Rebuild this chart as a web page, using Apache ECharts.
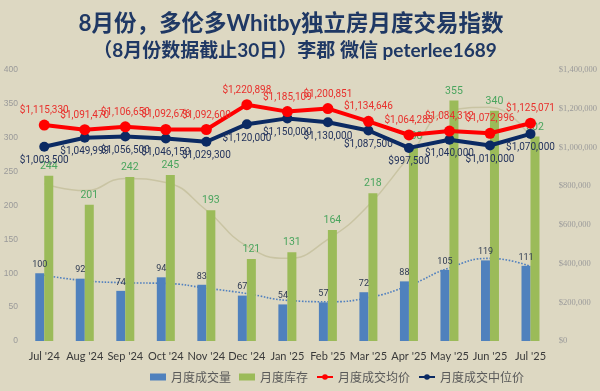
<!DOCTYPE html>
<html><head><meta charset="utf-8">
<script src="https://cdn.jsdelivr.net/npm/echarts@6/dist/echarts.min.js"></script>
<style>html,body{margin:0;padding:0;background:#ddd8c2;}#c{width:600px;height:391px;}</style>
</head><body><div id="c"></div>
<script>
const categories = ["Jul '24","Aug '24","Sep '24","Oct '24","Nov '24","Dec '24","Jan '25","Feb '25","Mar '25","Apr '25","May '25","Jun '25","Jul '25"];
const volume = [100, 92, 74, 94, 83, 67, 54, 57, 72, 88, 105, 119, 111];
const inventory = [244, 201, 242, 245, 193, 121, 131, 164, 218, 288, 355, 340, 302];
const avgPrice = [1115330, 1091470, 1106650, 1092676, 1092600, 1220898, 1185109, 1200851, 1134646, 1064283, 1084312, 1072996, 1125071];
const medianPrice = [1003500, 1049999, 1056500, 1046150, 1029300, 1120000, 1150000, 1130000, 1087500, 997500, 1040000, 1010000, 1070000];
const volumeTrend = [97, 89, 86, 85, 78, 70, 60, 58, 64, 82, 108, 122, 110];
const inventoryTrend = [232, 222, 240, 234, 193, 140, 122, 150, 200, 272, 340, 345, 300];
const leftTicks = {min: 0, max: 400, interval: 50};
const rightTicks = {min: 0, max: 1400000, interval: 200000};
const names = ['月度成交量', '月度库存', '月度成交均价', '月度成交中位价'];

const money = v => '$' + Math.round(v).toLocaleString('en-US');
const latin = "Lato, 'Noto Sans CJK SC', sans-serif";
const lbl = "Roboto, sans-serif";

const chart = echarts.init(document.getElementById('c'));
chart.setOption({
  backgroundColor: '#ddd8c2',
  animation: false,
  title: [{
    text: '8月份，多伦多Whitby独立房月度交易指数',
    left: 286, top: 7, textAlign: 'center',
    textStyle: {fontSize: 22.5, fontWeight: 'bold', color: '#1f3864', fontFamily: latin}
  }, {
    text: '（8月份数据截止30日）李郡 微信 peterlee1689',
    left: 290, top: 36, textAlign: 'center',
    textStyle: {fontSize: 19, fontWeight: 'bold', color: '#1f3864', fontFamily: latin}
  }],
  legend: {
    data: [
      {name: names[0], icon: 'rect'},
      {name: names[1], icon: 'rect'},
      {name: names[2]},
      {name: names[3]}
    ],
    top: 366, left: 145,
    itemWidth: 16, itemHeight: 7, itemGap: 8,
    textStyle: {fontSize: 12, color: '#595959', fontFamily: "'Noto Sans CJK SC', sans-serif"}
  },
  grid: {left: 24, right: 47, top: 70, bottom: 50},
  xAxis: {
    type: 'category', data: categories,
    axisLine: {show: false}, axisTick: {show: false},
    axisLabel: {interval: 0, fontSize: 11, color: '#3a3a3a', margin: 10, fontFamily: latin}
  },
  yAxis: [{
    type: 'value', min: leftTicks.min, max: leftTicks.max, interval: leftTicks.interval,
    splitLine: {show: false}, axisLine: {show: false}, axisTick: {show: false},
    axisLabel: {fontSize: 8.5, color: '#9a9a9a', margin: 6}
  }, {
    type: 'value', min: rightTicks.min, max: rightTicks.max, interval: rightTicks.interval,
    splitLine: {show: false}, axisLine: {show: false}, axisTick: {show: false},
    axisLabel: {fontSize: 8.5, color: '#9a9a9a', margin: 8, fontFamily: "'Liberation Serif', serif", formatter: money}
  }],
  series: [{
    name: 'volTrend', type: 'line', data: volumeTrend, smooth: true, symbol: 'none', z: 1,
    lineStyle: {color: '#4f7fbf', width: 1.6, type: 'dotted'}, silent: true
  }, {
    name: 'invTrend', type: 'line', data: inventoryTrend, smooth: true, symbol: 'none', z: 1,
    lineStyle: {color: '#c9c4a3', width: 1.5}, silent: true
  }, {
    name: names[0], type: 'bar', data: volume, barWidth: 9, barGap: '0%', z: 2,
    itemStyle: {color: '#4f81bd'},
    label: {show: true, position: 'top', fontSize: 9, color: '#2f3b52', fontFamily: lbl, distance: 4}
  }, {
    name: names[1], type: 'bar', data: inventory, barWidth: 9, z: 2,
    itemStyle: {color: '#9bbb59'},
    label: {show: true, position: 'top', fontSize: 10.5, color: '#4aa55e', fontFamily: lbl, distance: 4}
  }, {
    name: names[2], type: 'line', yAxisIndex: 1, data: avgPrice, z: 4,
    symbol: 'circle', symbolSize: 11,
    lineStyle: {color: '#ff0000', width: 4}, itemStyle: {color: '#ff0000'},
    label: {show: true, position: 'top', fontSize: 10, color: '#e8302c', fontFamily: lbl, distance: 4, formatter: p => money(p.value)}
  }, {
    name: names[3], type: 'line', yAxisIndex: 1, data: medianPrice, z: 3,
    symbol: 'circle', symbolSize: 10,
    lineStyle: {color: '#0b2a63', width: 4}, itemStyle: {color: '#0b2a63'},
    label: {show: true, position: 'bottom', fontSize: 10, color: '#1f2f5a', fontFamily: lbl, distance: 4, formatter: p => money(p.value)}
  }]
});
</script>
</body></html>
